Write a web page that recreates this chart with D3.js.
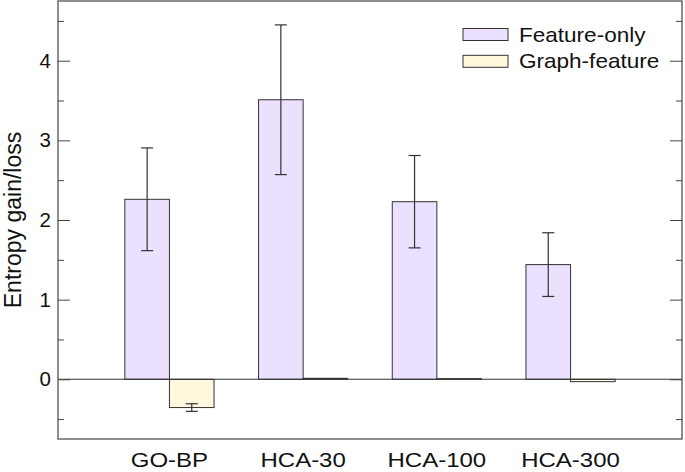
<!DOCTYPE html>
<html>
<head>
<meta charset="utf-8">
<script src="https://cdn.jsdelivr.net/npm/d3@7"></script>
<style>
  html, body { margin: 0; padding: 0; background: #fff; }
  svg { display: block; }
  text { font-family: "Liberation Sans", Arial, Helvetica, sans-serif; fill: #111; }
</style>
</head>
<body>
<svg id="chart" width="685" height="472"></svg>
<script>
// ---- data ----
const categories = ["GO-BP", "HCA-30", "HCA-100", "HCA-300"];
const seriesNames = ["Feature-only", "Graph-feature"];
const featureOnly = [2.26, 3.51, 2.23, 1.44];
const featureOnlyErr = [0.645, 0.94, 0.58, 0.40];
const graphFeature = [-0.355, 0.012, 0.008, -0.03];
const graphFeatureErr = [0.048, 0, 0, 0];
const yMajorTicks = [0, 1, 2, 3, 4];
const yMinorTicks = [-0.5, 0.5, 1.5, 2.5, 3.5, 4.5];
const yTitle = "Entropy gain/loss";

const seriesValues = [featureOnly, graphFeature];
const seriesErrors = [featureOnlyErr, graphFeatureErr];
const colors = ["#ece0ff", "#fff8dc"];

// ---- layout ----
const L = 58, R = 682, T = 1, B = 439;
const svg = d3.select("#chart");

const x = d3.scaleBand().domain(categories).range([L, R]).paddingInner(0.333).paddingOuter(0.5);
const xs = d3.scaleBand().domain(seriesNames).range([0, x.bandwidth()]).padding(0);
const y = d3.scaleLinear().domain([-0.75, 4.75]).range([B, T]);

const rows = [];
categories.forEach((c, i) => {
  seriesNames.forEach((s, j) => {
    rows.push({ c, s, j, v: seriesValues[j][i], e: seriesErrors[j][i] });
  });
});

// bars
svg.append("g").selectAll("rect").data(rows).join("rect")
  .attr("x", d => x(d.c) + xs(d.s))
  .attr("y", d => y(Math.max(0, d.v)))
  .attr("width", xs.bandwidth())
  .attr("height", d => Math.abs(y(d.v) - y(0)))
  .attr("fill", d => colors[d.j])
  .attr("stroke", "#333")
  .attr("stroke-width", 1);

// zero line
svg.append("line")
  .attr("x1", L).attr("x2", R)
  .attr("y1", y(0)).attr("y2", y(0))
  .attr("stroke", "#333").attr("stroke-width", 1.2);

// error bars
const eb = svg.append("g").attr("stroke", "#333").attr("stroke-width", 1.2);
rows.filter(d => d.e > 0).forEach(d => {
  const cx = x(d.c) + xs(d.s) + xs.bandwidth() / 2;
  eb.append("line").attr("x1", cx).attr("x2", cx).attr("y1", y(d.v - d.e)).attr("y2", y(d.v + d.e));
  [d.v - d.e, d.v + d.e].forEach(t => {
    eb.append("line").attr("x1", cx - 6).attr("x2", cx + 6).attr("y1", y(t)).attr("y2", y(t));
  });
});

// axes
function styleAxis(g) {
  g.select(".domain").remove();
  g.selectAll("line").attr("stroke", "#444");
}
svg.append("g").attr("transform", `translate(${L},0)`)
  .call(d3.axisLeft(y).tickValues(yMajorTicks).tickSize(-12).tickPadding(7).tickFormat(d3.format("d")))
  .call(styleAxis)
  .call(g => g.selectAll("text").attr("font-size", 20.5).attr("fill", "#111")
    .attr("font-family", '"Liberation Sans", Arial, sans-serif'));
svg.append("g").attr("transform", `translate(${L},0)`)
  .call(d3.axisLeft(y).tickValues(yMinorTicks).tickSize(-6).tickFormat(""))
  .call(styleAxis);
svg.append("g").attr("transform", `translate(${R},0)`)
  .call(d3.axisRight(y).tickValues(yMajorTicks).tickSize(-12).tickFormat(""))
  .call(styleAxis);
svg.append("g").attr("transform", `translate(${R},0)`)
  .call(d3.axisRight(y).tickValues(yMinorTicks).tickSize(-6).tickFormat(""))
  .call(styleAxis);

// x axis labels
svg.append("g").attr("transform", `translate(0,${B})`)
  .call(d3.axisBottom(x).tickSize(0).tickPadding(14.3))
  .call(g => g.select(".domain").remove())
  .call(g => g.selectAll("text").attr("font-size", 20).attr("fill", "#111")
    .attr("font-family", '"Liberation Sans", Arial, sans-serif')
    .attr("transform", "scale(1.2,1)"));

// frame
svg.append("rect").attr("x", L).attr("y", T).attr("width", R - L).attr("height", B - T)
  .attr("fill", "none").attr("stroke", "#444").attr("stroke-width", 1.2);

// y title
svg.append("text")
  .attr("transform", `translate(21,220) rotate(-90)`)
  .attr("text-anchor", "middle")
  .attr("font-size", 23)
  .text(yTitle);

// legend
const lg = svg.append("g");
seriesNames.forEach((s, j) => {
  const top = 28.5 + j * 26.8;
  lg.append("rect").attr("x", 463).attr("y", top).attr("width", 45).attr("height", 12)
    .attr("fill", colors[j]).attr("stroke", "#333").attr("stroke-width", 1);
  lg.append("text")
    .attr("transform", `translate(519,${top + 13}) scale(1.1,1)`)
    .attr("font-size", 20.5)
    .text(s);
});
</script>
</body>
</html>
